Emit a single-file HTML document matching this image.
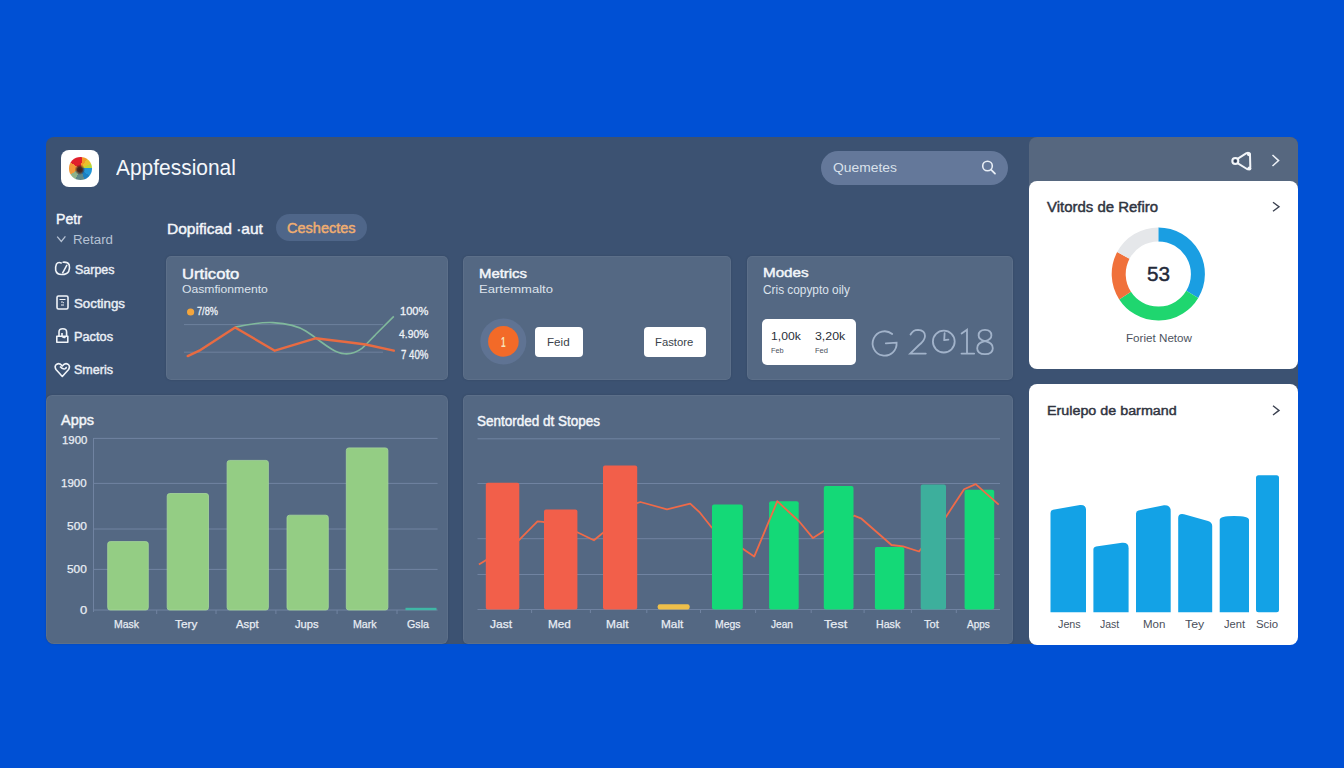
<!DOCTYPE html>
<html><head><meta charset="utf-8"><style>
*{margin:0;padding:0;box-sizing:border-box}
html,body{width:1344px;height:768px;overflow:hidden}
body{background:#0050d4;font-family:"Liberation Sans",sans-serif;position:relative}
.a{position:absolute}
.t{position:absolute;line-height:1;white-space:nowrap;transform-origin:0 0}
#main{left:46px;top:137px;width:1252px;height:507px;border-radius:8px;background:#3c5272}
.card{position:absolute;background:#546883;border-radius:5px;box-shadow:inset 0 0 0 1px rgba(255,255,255,0.05),0 0 2px rgba(20,30,50,0.25)}
.wc{position:absolute;background:#fff;border-radius:8px}
.btn{position:absolute;background:#fff;border-radius:4px}
#logo{left:68.6px;top:157.4px;width:23.4px;height:23px;border-radius:50%;
background:radial-gradient(circle at 47% 55%,#3d1e16 0,#4a2a20 14%,rgba(80,40,30,0.5) 22%,rgba(0,0,0,0) 30%),
conic-gradient(from -45deg,#e01f2b 0 55deg,#f39a26 55deg 80deg,#e9c12c 80deg 110deg,#b8d63a 110deg 130deg,#2295d6 130deg 175deg,#1c7fc0 175deg 205deg,#5e8888 205deg 250deg,#8fb38a 250deg 285deg,#f29838 285deg 345deg,#e01f2b 345deg)}
</style></head><body>
<div class="a" id="main"></div>
<div class="a" style="left:1029px;top:137px;width:269px;height:60px;border-radius:8px 8px 0 0;background:#56677f"></div>
<div class="wc" style="left:1029px;top:181px;width:269px;height:188px"></div>
<div class="wc" style="left:1029px;top:384px;width:269px;height:261px"></div>
<div class="a" style="left:61px;top:150px;width:38px;height:37px;border-radius:8px;background:#fff"></div>
<div class="a" id="logo"></div>
<div class="a" style="left:821px;top:151px;width:187px;height:34px;border-radius:17px;background:#64789a"></div>
<div class="a" style="left:276px;top:214px;width:91px;height:27px;border-radius:14px;background:#4f6689"></div>
<div class="card" style="left:166px;top:256px;width:282px;height:124px"></div>
<div class="card" style="left:463px;top:256px;width:268px;height:124px"></div>
<div class="card" style="left:747px;top:256px;width:266px;height:124px"></div>
<div class="card" style="left:46px;top:395px;width:402px;height:249px;border-radius:6px 6px 6px 8px"></div>
<div class="card" style="left:463px;top:395px;width:550px;height:249px"></div>
<div class="btn" style="left:535px;top:326.7px;width:48px;height:30.7px"></div>
<div class="btn" style="left:643.8px;top:326.7px;width:62.2px;height:30.7px"></div>
<div class="btn" style="left:762.4px;top:319.3px;width:93.8px;height:45.9px;border-radius:5px"></div>
<svg class="a" style="left:0;top:0" width="1344" height="768" viewBox="0 0 1344 768">
<circle cx="987.5" cy="166" r="4.8" fill="none" stroke="#e8eef6" stroke-width="1.6"/>
<line x1="991" y1="169.6" x2="995" y2="173.6" stroke="#e8eef6" stroke-width="1.8" stroke-linecap="round"/>
<polyline points="57.2,236.6 61.3,241.4 65.4,236.4" fill="none" stroke="#b6c2d4" stroke-width="1.3"/>
<path d="M61.2 262.9 Q58 261.6 56.4 264.2 Q55.1 267.2 55.7 270.2 Q56.7 274.4 61.5 274.5 Q66.5 274.7 68.7 271.5 Q70.1 268 69.2 264.9 Q67.9 261.9 63.1 262.2" fill="none" stroke="#f0f4f9" stroke-width="1.6" stroke-linecap="round"/>
<line x1="67" y1="264.8" x2="62.4" y2="273.4" stroke="#f0f4f9" stroke-width="1.5"/>
<rect x="57" y="296" width="11" height="13" rx="1.5" fill="none" stroke="#f0f4f9" stroke-width="1.6"/>
<path d="M59.5 299.5 h6 M61 302 q2 -0.5 3 1.2 M61 305 h3" fill="none" stroke="#f0f4f9" stroke-width="1"/>
<path d="M59 336 v-4 q0 -3.2 3.8 -3.2 q3.8 0 3.8 3.2 v4 M56.8 336.3 h11 v6 h-11 z M62 333 v3.5 q1.5 1.5 3.5 0.5" fill="none" stroke="#f0f4f9" stroke-width="1.6" stroke-linejoin="round"/>
<path d="M62.3 376.5 L56 369.5 Q54 366 56.8 364.2 Q59.7 362.6 62.3 366 Q65 362.6 67.8 364.2 Q70.6 366 68.6 369.5 Z M60 366.5 q2.5 3 5 2.3 q1.5 -0.5 1.2 -2" fill="none" stroke="#f0f4f9" stroke-width="1.6" stroke-linejoin="round"/>
<line x1="184" y1="324.6" x2="383" y2="324.6" stroke="#6d809d" stroke-width="1"/>
<line x1="184" y1="352.2" x2="383" y2="352.2" stroke="#6d809d" stroke-width="1"/>
<path d="M235.1 327.1 C250 324 262 322 272.9 322.6 C288 323.5 298 326 305.7 331 C312 335 316 338 319.3 340.6 C328 347 336 353 344.4 353.8 C352 354.5 357 352 361.9 348.4 C367 344 371 339 375.4 334.8 L393.8 316.4" fill="none" stroke="#80b99c" stroke-width="1.6"/>
<polyline points="187.7,356.1 199.3,350.7 235.1,327.5 274.8,350.7 315.4,338.3 348.3,342.2 365.7,344.5 393.8,350.7" fill="none" stroke="#e86b42" stroke-width="2.4" stroke-linejoin="round" stroke-linecap="round"/>
<circle cx="190.6" cy="312" r="3.6" fill="#f3a53c"/>
<circle cx="503.3" cy="341.4" r="23" fill="#5f7393"/>
<circle cx="503.4" cy="341.4" r="15.3" fill="#f36a28"/>
<g fill="none" stroke="#a2b3ca" stroke-width="1.8" stroke-linecap="round"><path d="M892.2 334 A12 12.2 0 1 0 896.6 342.6 L885.8 343.3"/><path d="M910.5 334.5 Q913 329.8 918 329.8 Q925 330 925 336 Q925 340.5 918.5 345.5 L910.2 353.6 H925.8"/><circle cx="943.8" cy="341.6" r="10.9"/><path d="M944.2 340.2 L944.6 333.2 M944.2 340.2 L948.4 339.6"/><path d="M961.6 333.6 L967 329.8 V353.6 M961.5 353.6 H974.2"/><path d="M985 341 Q978.6 339.4 978.6 335.4 Q978.6 329.8 985 329.8 Q991.4 329.8 991.4 335.4 Q991.4 339.4 985 341 Q977.2 342.6 977.2 348.2 Q977.2 354.2 985 354.2 Q992.8 354.2 992.8 348.2 Q992.8 342.6 985 341 Z"/></g>
<g fill="none" stroke="#f2f5f9" stroke-width="2" stroke-linejoin="round"><path d="M1237.5 158.8 L1246.5 153.2 Q1249.5 152 1250 155 L1250.3 167 Q1250 170 1247 169 L1237.5 163.2"/><circle cx="1235.3" cy="161" r="3"/></g>
<circle cx="1249" cy="154.2" r="2" fill="#f2f5f9"/><circle cx="1249.4" cy="168.4" r="2" fill="#f2f5f9"/>
<circle cx="1235.3" cy="161" r="1.3" fill="#2e3a52"/>
<polyline points="1272.5,155 1278.6,160.6 1272.5,166" fill="none" stroke="#eef2f7" stroke-width="1.5"/>
<polyline points="1273,202.2 1279,206.8 1273,211.3" fill="none" stroke="#3b4150" stroke-width="1.4"/>
<polyline points="1273,405.8 1279,410.4 1273,415" fill="none" stroke="#3b4150" stroke-width="1.4"/>
<path d="M1158.30 234.40 A39.6 39.6 0 0 1 1192.24 294.40" fill="none" stroke="#1a9ee2" stroke-width="14"/>
<path d="M1192.24 294.40 A39.6 39.6 0 0 1 1125.09 295.57" fill="none" stroke="#1fd66f" stroke-width="14"/>
<path d="M1125.09 295.57 A39.6 39.6 0 0 1 1123.34 255.41" fill="none" stroke="#f0713b" stroke-width="14"/>
<path d="M1123.34 255.41 A39.6 39.6 0 0 1 1158.30 234.40" fill="none" stroke="#e5e7ea" stroke-width="14"/>
<line x1="93.5" y1="438.4" x2="437.6" y2="438.4" stroke="#7083a1" stroke-width="1"/>
<line x1="93.5" y1="483.4" x2="437.6" y2="483.4" stroke="#7083a1" stroke-width="1"/>
<line x1="93.5" y1="529" x2="437.6" y2="529" stroke="#7083a1" stroke-width="1"/>
<line x1="93.5" y1="569.4" x2="437.6" y2="569.4" stroke="#7083a1" stroke-width="1"/>
<line x1="93.5" y1="438" x2="93.5" y2="612" stroke="#7083a1" stroke-width="1"/>
<line x1="93" y1="610" x2="437.6" y2="610" stroke="#7083a1" stroke-width="1"/>
<rect x="107.7" y="541.6" width="40.6" height="68.4" rx="2.5" fill="#94cd84" stroke="#a6d79a" stroke-width="0.8"/>
<rect x="167.2" y="493.5" width="41.3" height="116.5" rx="2.5" fill="#94cd84" stroke="#a6d79a" stroke-width="0.8"/>
<rect x="227.1" y="460.4" width="41.3" height="149.6" rx="2.5" fill="#94cd84" stroke="#a6d79a" stroke-width="0.8"/>
<rect x="287" y="515.2" width="41.3" height="94.8" rx="2.5" fill="#94cd84" stroke="#a6d79a" stroke-width="0.8"/>
<rect x="346.3" y="447.9" width="41.6" height="162.1" rx="2.5" fill="#94cd84" stroke="#a6d79a" stroke-width="0.8"/>
<rect x="405.5" y="607.8" width="31" height="2.4" fill="#3fb7a6"/>
<line x1="156.7" y1="610" x2="156.7" y2="614" stroke="#7083a1" stroke-width="1"/>
<line x1="216" y1="610" x2="216" y2="614" stroke="#7083a1" stroke-width="1"/>
<line x1="275.9" y1="610" x2="275.9" y2="614" stroke="#7083a1" stroke-width="1"/>
<line x1="337.1" y1="610" x2="337.1" y2="614" stroke="#7083a1" stroke-width="1"/>
<line x1="397" y1="610" x2="397" y2="614" stroke="#7083a1" stroke-width="1"/>
<line x1="477.5" y1="438.8" x2="1000" y2="438.8" stroke="#7083a1" stroke-width="1"/>
<line x1="477.5" y1="483.5" x2="1000" y2="483.5" stroke="#7083a1" stroke-width="1"/>
<line x1="477.5" y1="538.7" x2="1000" y2="538.7" stroke="#7083a1" stroke-width="1"/>
<line x1="477.5" y1="574.5" x2="1000" y2="574.5" stroke="#7083a1" stroke-width="1"/>
<line x1="477.5" y1="609.5" x2="1000" y2="609.5" stroke="#7083a1" stroke-width="1"/>
<line x1="531.6" y1="609.5" x2="531.6" y2="613" stroke="#7083a1" stroke-width="1"/>
<line x1="590.4" y1="609.5" x2="590.4" y2="613" stroke="#7083a1" stroke-width="1"/>
<line x1="646.8" y1="609.5" x2="646.8" y2="613" stroke="#7083a1" stroke-width="1"/>
<line x1="700.5" y1="609.5" x2="700.5" y2="613" stroke="#7083a1" stroke-width="1"/>
<line x1="755.6" y1="609.5" x2="755.6" y2="613" stroke="#7083a1" stroke-width="1"/>
<line x1="811.2" y1="609.5" x2="811.2" y2="613" stroke="#7083a1" stroke-width="1"/>
<line x1="864.1" y1="609.5" x2="864.1" y2="613" stroke="#7083a1" stroke-width="1"/>
<line x1="911.4" y1="609.5" x2="911.4" y2="613" stroke="#7083a1" stroke-width="1"/>
<line x1="956.3" y1="609.5" x2="956.3" y2="613" stroke="#7083a1" stroke-width="1"/>
<rect x="769.1" y="501.2" width="29.6" height="108.3" rx="2" fill="#14d977"/>
<rect x="874.9" y="547.1" width="29.4" height="62.4" rx="2" fill="#14d977"/>
<rect x="964.6" y="489.7" width="29.6" height="119.8" rx="2" fill="#14d977"/>
<polyline points="478.9,564.6 518.7,540.3 537.5,521.3 543,521.9 577.3,532.3 593.9,540.3 602.8,533 637,503.1 640.4,502 667,509.3 690.2,503.6 700,512.7 711.5,527.3 742.7,548.7 754.2,556.6 777.3,501.2 799.2,521.5 813,538.1 823.4,531.2 854.1,515.7 861.5,518.7 891.5,545 903,546.4 919.1,551.5 945.9,516.9 964.1,489.2 975.7,484.1 998.7,504.7" fill="none" stroke="#ef6a48" stroke-width="1.8" stroke-linejoin="round"/>
<rect x="485.8" y="482.7" width="33.5" height="126.8" rx="2" fill="#f25f4a"/>
<rect x="544" y="509.4" width="33.4" height="100.1" rx="2" fill="#f25f4a"/>
<rect x="603" y="465.5" width="34.2" height="144.0" rx="2" fill="#f25f4a"/>
<rect x="657.7" y="604.2" width="31.9" height="5.3" rx="2" fill="#eebf4a"/>
<rect x="712" y="504.4" width="30.8" height="105.1" rx="2" fill="#14d977"/>
<rect x="823.8" y="486" width="29.7" height="123.5" rx="2" fill="#14d977"/>
<rect x="920.7" y="484.4" width="25.3" height="125.1" rx="2" fill="#3daf9c"/>
<g fill="#13a2e6"><path d="M1050.5 612.3 V513 Q1050.5 510.4 1053 509.8 L1080 505 Q1086 504.5 1086 510 V612.3 Z"/><path d="M1093.4 612.3 V549 Q1093.4 547 1096 546.4 L1122 542.8 Q1128.6 542.3 1128.6 548 V612.3 Z"/><path d="M1136 612.3 V513.5 Q1136 511 1138.5 510.4 L1164 505.2 Q1170.7 504.8 1170.7 511 V612.3 Z"/><path d="M1178.2 612.3 V518 Q1178.2 513 1184 514.2 L1208 521 Q1212.2 522.4 1212.2 526 V612.3 Z"/><path d="M1219.7 612.3 V520 Q1219.7 516 1234 516 Q1249 516 1249 520 V612.3 Z"/><rect x="1256" y="475.2" width="23" height="137.1" rx="2.5"/></g>
</svg>
<div class="t" style="left:116.0px;top:156.6px;font-size:22.53px;font-weight:400;color:#f4f7fb;transform:scaleX(0.930);">Appfessional</div>
<div class="t" style="left:833.0px;top:161.4px;font-size:13.66px;font-weight:400;color:#d9e1eb;transform:scaleX(1.015);">Quemetes</div>
<div class="t" style="left:56.0px;top:211.6px;font-size:14.10px;font-weight:400;color:#f3f6fa;-webkit-text-stroke:0.45px #f3f6fa;">Petr</div>
<div class="t" style="left:72.7px;top:232.8px;font-size:13.23px;font-weight:400;color:#b6c2d4;transform:scaleX(1.008);">Retard</div>
<div class="t" style="left:74.5px;top:262.9px;font-size:13.08px;font-weight:400;color:#e9eef5;transform:scaleX(0.953);-webkit-text-stroke:0.45px #e9eef5;">Sarpes</div>
<div class="t" style="left:74.0px;top:296.6px;font-size:13.08px;font-weight:400;color:#e9eef5;transform:scaleX(1.017);-webkit-text-stroke:0.45px #e9eef5;">Soctings</div>
<div class="t" style="left:74.0px;top:329.9px;font-size:13.08px;font-weight:400;color:#e9eef5;transform:scaleX(0.976);-webkit-text-stroke:0.45px #e9eef5;">Pactos</div>
<div class="t" style="left:74.0px;top:363.4px;font-size:13.08px;font-weight:400;color:#e9eef5;transform:scaleX(0.959);-webkit-text-stroke:0.45px #e9eef5;">Smeris</div>
<div class="t" style="left:166.8px;top:220.6px;font-size:15.12px;font-weight:400;color:#f3f6fa;transform:scaleX(1.029);-webkit-text-stroke:0.45px #f3f6fa;">Dopificad ·aut</div>
<div class="t" style="left:286.8px;top:221.0px;font-size:14.39px;font-weight:400;color:#f1ae70;transform:scaleX(1.010);-webkit-text-stroke:0.45px #f1ae70;">Ceshectes</div>
<div class="t" style="left:181.7px;top:266.7px;font-size:14.24px;font-weight:400;color:#f3f6fa;transform:scaleX(1.168);-webkit-text-stroke:0.45px #f3f6fa;">Urticoto</div>
<div class="t" style="left:182.0px;top:284.2px;font-size:11.34px;font-weight:400;color:#dce3ec;transform:scaleX(1.074);">Oasmfionmento</div>
<div class="t" style="left:479.0px;top:267.7px;font-size:12.79px;font-weight:400;color:#f3f6fa;transform:scaleX(1.165);-webkit-text-stroke:0.45px #f3f6fa;">Metrics</div>
<div class="t" style="left:479.0px;top:284.2px;font-size:11.34px;font-weight:400;color:#dce3ec;transform:scaleX(1.151);">Eartemmalto</div>
<div class="t" style="left:762.8px;top:267.4px;font-size:12.94px;font-weight:400;color:#f3f6fa;transform:scaleX(1.175);-webkit-text-stroke:0.45px #f3f6fa;">Modes</div>
<div class="t" style="left:763.0px;top:283.8px;font-size:12.06px;font-weight:400;color:#dce3ec;transform:scaleX(0.983);">Cris copypto oily</div>
<div class="t" style="left:61.0px;top:413.1px;font-size:14.68px;font-weight:400;color:#f3f6fa;transform:scaleX(0.986);-webkit-text-stroke:0.45px #f3f6fa;">Apps</div>
<div class="t" style="left:477.0px;top:414.1px;font-size:14.10px;font-weight:400;color:#f3f6fa;transform:scaleX(0.957);-webkit-text-stroke:0.45px #f3f6fa;">Sentorded dt Stopes</div>
<div class="t" style="left:1047.0px;top:199.8px;font-size:14.10px;font-weight:400;color:#30343f;transform:scaleX(1.060);-webkit-text-stroke:0.45px #30343f;">Vitords de Refiro</div>
<div class="t" style="left:1047.0px;top:403.7px;font-size:13.66px;font-weight:400;color:#30343f;transform:scaleX(1.048);-webkit-text-stroke:0.45px #30343f;">Erulepo de barmand</div>
<div class="t" style="left:1147.0px;top:264.1px;font-size:20.93px;font-weight:400;color:#242a3a;transform:scaleX(0.990);-webkit-text-stroke:0.45px #242a3a;">53</div>
<div class="t" style="left:1125.6px;top:333.2px;font-size:11.19px;font-weight:400;color:#4d5360;transform:scaleX(1.040);">Foriet Netow</div>
<div class="t" style="left:197.0px;top:306.3px;font-size:11.34px;font-weight:400;color:#eef2f7;transform:scaleX(0.812);-webkit-text-stroke:0.3px #eef2f7;">7/8%</div>
<div class="t" style="left:399.6px;top:306.4px;font-size:10.76px;font-weight:400;color:#eef2f7;transform:scaleX(1.031);-webkit-text-stroke:0.3px #eef2f7;">100%</div>
<div class="t" style="left:398.6px;top:329.2px;font-size:11.19px;font-weight:400;color:#eef2f7;transform:scaleX(0.927);-webkit-text-stroke:0.3px #eef2f7;">4.90%</div>
<div class="t" style="left:400.5px;top:349.4px;font-size:12.06px;font-weight:400;color:#eef2f7;transform:scaleX(0.804);-webkit-text-stroke:0.3px #eef2f7;">7 40%</div>
<div class="t" style="left:547.4px;top:336.6px;font-size:11.05px;font-weight:400;color:#3a3f4a;transform:scaleX(1.052);">Feid</div>
<div class="t" style="left:655.4px;top:336.6px;font-size:11.05px;font-weight:400;color:#3a3f4a;transform:scaleX(1.020);">Fastore</div>
<div class="t" style="left:501.2px;top:334.9px;font-size:14.24px;font-weight:700;color:#f8e2b8;transform:scaleX(0.582);">1</div>
<div class="t" style="left:771.0px;top:331.0px;font-size:11.48px;font-weight:400;color:#2a2f3a;transform:scaleX(1.059);">1,00k</div>
<div class="t" style="left:815.3px;top:331.0px;font-size:11.48px;font-weight:400;color:#2a2f3a;transform:scaleX(1.077);">3,20k</div>
<div class="t" style="left:771.0px;top:347.2px;font-size:7.99px;font-weight:400;color:#4a505c;transform:scaleX(0.914);">Feb</div>
<div class="t" style="left:815.0px;top:347.2px;font-size:7.99px;font-weight:400;color:#4a505c;transform:scaleX(0.943);">Fed</div>
<div class="t" style="left:61.6px;top:435.4px;font-size:11.34px;font-weight:400;color:#e8edf4;transform:scaleX(1.007);-webkit-text-stroke:0.25px #e8edf4;">1900</div>
<div class="t" style="left:61.4px;top:478.1px;font-size:11.34px;font-weight:400;color:#e8edf4;transform:scaleX(1.015);-webkit-text-stroke:0.25px #e8edf4;">1900</div>
<div class="t" style="left:67.0px;top:521.3px;font-size:11.34px;font-weight:400;color:#e8edf4;transform:scaleX(1.056);-webkit-text-stroke:0.25px #e8edf4;">500</div>
<div class="t" style="left:67.2px;top:563.8px;font-size:11.34px;font-weight:400;color:#e8edf4;transform:scaleX(1.046);-webkit-text-stroke:0.25px #e8edf4;">500</div>
<div class="t" style="left:79.8px;top:604.5px;font-size:11.34px;font-weight:400;color:#e8edf4;transform:scaleX(1.144);-webkit-text-stroke:0.25px #e8edf4;">0</div>
<div class="t" style="left:113.8px;top:618.7px;font-size:11.48px;font-weight:400;color:#e8edf4;transform:scaleX(0.909);-webkit-text-stroke:0.25px #e8edf4;">Mask</div>
<div class="t" style="left:175.4px;top:618.7px;font-size:11.48px;font-weight:400;color:#e8edf4;transform:scaleX(1.028);-webkit-text-stroke:0.25px #e8edf4;">Tery</div>
<div class="t" style="left:235.6px;top:618.7px;font-size:11.48px;font-weight:400;color:#e8edf4;transform:scaleX(0.988);-webkit-text-stroke:0.25px #e8edf4;">Aspt</div>
<div class="t" style="left:294.5px;top:618.7px;font-size:11.48px;font-weight:400;color:#e8edf4;transform:scaleX(0.978);-webkit-text-stroke:0.25px #e8edf4;">Jups</div>
<div class="t" style="left:353.0px;top:618.7px;font-size:11.48px;font-weight:400;color:#e8edf4;transform:scaleX(0.928);-webkit-text-stroke:0.25px #e8edf4;">Mark</div>
<div class="t" style="left:407.2px;top:618.7px;font-size:11.48px;font-weight:400;color:#e8edf4;transform:scaleX(0.930);-webkit-text-stroke:0.25px #e8edf4;">Gsla</div>
<div class="t" style="left:489.8px;top:618.6px;font-size:11.48px;font-weight:400;color:#e8edf4;transform:scaleX(1.054);-webkit-text-stroke:0.25px #e8edf4;">Jast</div>
<div class="t" style="left:547.5px;top:618.6px;font-size:11.48px;font-weight:400;color:#e8edf4;transform:scaleX(1.025);-webkit-text-stroke:0.25px #e8edf4;">Med</div>
<div class="t" style="left:605.5px;top:618.6px;font-size:11.48px;font-weight:400;color:#e8edf4;transform:scaleX(1.037);-webkit-text-stroke:0.25px #e8edf4;">Malt</div>
<div class="t" style="left:660.7px;top:618.6px;font-size:11.48px;font-weight:400;color:#e8edf4;transform:scaleX(1.028);-webkit-text-stroke:0.25px #e8edf4;">Malt</div>
<div class="t" style="left:714.5px;top:618.6px;font-size:11.48px;font-weight:400;color:#e8edf4;transform:scaleX(0.908);-webkit-text-stroke:0.25px #e8edf4;">Megs</div>
<div class="t" style="left:771.0px;top:618.6px;font-size:11.48px;font-weight:400;color:#e8edf4;transform:scaleX(0.883);-webkit-text-stroke:0.25px #e8edf4;">Jean</div>
<div class="t" style="left:824.0px;top:618.6px;font-size:11.48px;font-weight:400;color:#e8edf4;transform:scaleX(1.106);-webkit-text-stroke:0.25px #e8edf4;">Test</div>
<div class="t" style="left:876.0px;top:618.6px;font-size:11.48px;font-weight:400;color:#e8edf4;transform:scaleX(0.926);-webkit-text-stroke:0.25px #e8edf4;">Hask</div>
<div class="t" style="left:923.6px;top:618.6px;font-size:11.48px;font-weight:400;color:#e8edf4;transform:scaleX(0.972);-webkit-text-stroke:0.25px #e8edf4;">Tot</div>
<div class="t" style="left:967.3px;top:618.6px;font-size:11.48px;font-weight:400;color:#e8edf4;transform:scaleX(0.875);-webkit-text-stroke:0.25px #e8edf4;">Apps</div>
<div class="t" style="left:1057.6px;top:618.8px;font-size:11.05px;font-weight:400;color:#4a4f5a;transform:scaleX(0.974);">Jens</div>
<div class="t" style="left:1100.4px;top:618.8px;font-size:11.05px;font-weight:400;color:#4a4f5a;transform:scaleX(0.952);">Jast</div>
<div class="t" style="left:1143.0px;top:618.8px;font-size:11.05px;font-weight:400;color:#4a4f5a;transform:scaleX(1.043);">Mon</div>
<div class="t" style="left:1184.8px;top:618.8px;font-size:11.05px;font-weight:400;color:#4a4f5a;transform:scaleX(1.118);">Tey</div>
<div class="t" style="left:1224.0px;top:618.8px;font-size:11.05px;font-weight:400;color:#4a4f5a;transform:scaleX(1.006);">Jent</div>
<div class="t" style="left:1255.6px;top:618.8px;font-size:11.05px;font-weight:400;color:#4a4f5a;transform:scaleX(1.033);">Scio</div>
</body></html>
